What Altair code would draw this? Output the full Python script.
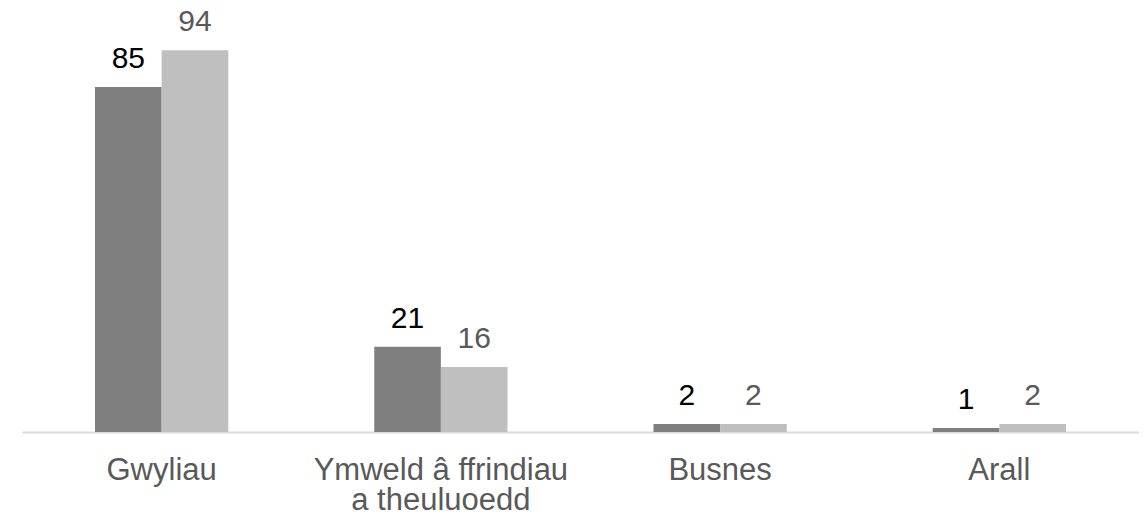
import altair as alt
import pandas as pd

categories = ["Gwyliau", "Ymweld â ffrindiau a theuluoedd", "Busnes", "Arall"]
series_names = ["Cyfres 1", "Cyfres 2"]
series1 = [85, 21, 2, 1]
series2 = [94, 16, 2, 2]

rows = []
for c, a, b in zip(categories, series1, series2):
    rows.append({"cat": c, "series": series_names[0], "value": a})
    rows.append({"cat": c, "series": series_names[1], "value": b})
df = pd.DataFrame(rows)

x = alt.X("cat:N", sort=categories, title=None,
          scale=alt.Scale(paddingInner=0.5227, paddingOuter=0.2614),
          axis=alt.Axis(labelAngle=0, ticks=False, domainColor="#d9d9d9", domainWidth=2,
                        labelFont="Liberation Sans", labelFontSize=31, labelColor="#595959",
                        labelPadding=23, labelLineHeight=30, labelLimit=400,
                        labelExpr="datum.label == 'Ymweld â ffrindiau a theuluoedd' ? ['Ymweld â ffrindiau', 'a theuluoedd'] : datum.label"))
xo = alt.XOffset("series:N", sort=series_names,
                 scale=alt.Scale(paddingInner=0, paddingOuter=0))
y = alt.Y("value:Q", scale=alt.Scale(domain=[0, 100]), axis=None)

bars = alt.Chart(df).mark_bar().encode(
    x=x, xOffset=xo, y=y,
    color=alt.Color("series:N", sort=series_names,
                    scale=alt.Scale(domain=series_names, range=["#7f7f7f", "#bfbfbf"]),
                    legend=None))

labels = alt.Chart(df).mark_text(
    font="Liberation Sans", fontSize=30, baseline="alphabetic", dy=-19).encode(
    x=x, xOffset=xo, y=y, text="value:Q",
    fill=alt.Fill("series:N", sort=series_names,
                  scale=alt.Scale(domain=series_names, range=["#000000", "#595959"]),
                  legend=None))

chart = alt.layer(bars, labels).resolve_scale(color="independent", fill="independent").properties(
    width=1117, height=406,
    autosize=alt.AutoSizeParams(type="none"),
    padding={"left": 14, "top": 18, "right": 0, "bottom": 80},
).configure_view(stroke=None)

chart.save("out.html", embed_options={"renderer": "svg", "actions": False})
